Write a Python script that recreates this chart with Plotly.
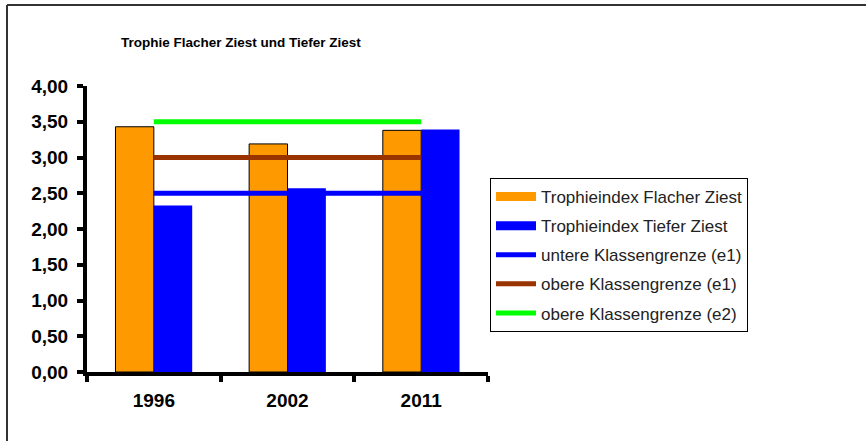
import plotly.graph_objects as go

# === Data ===
years = ["1996", "2002", "2011"]
flacher_ziest = [3.43, 3.19, 3.38]
tiefer_ziest = [2.33, 2.57, 3.39]
untere_e1 = [2.5, 2.5, 2.5]
obere_e1 = [3.0, 3.0, 3.0]
obere_e2 = [3.5, 3.5, 3.5]

W, H = 866, 441
FONT = "Liberation Sans, Arial, sans-serif"

fig = go.Figure()

fig.add_trace(go.Bar(
    x=years, y=flacher_ziest, name="Trophieindex Flacher Ziest",
    marker=dict(color="#FF9900", line=dict(color="black", width=1)),
    showlegend=False,
))
fig.add_trace(go.Bar(
    x=years, y=tiefer_ziest, name="Trophieindex Tiefer Ziest",
    marker=dict(color="#0000FF", line=dict(width=0)),
    showlegend=False,
))

# legend entries for the bars (wide rectangles like the original)
fig.add_trace(go.Scatter(x=[None], y=[None], mode="lines", name="Trophieindex Flacher Ziest",
                         line=dict(color="#FF9900", width=9), legendgroup="a"))
fig.add_trace(go.Scatter(x=[None], y=[None], mode="lines", name="Trophieindex Tiefer Ziest",
                         line=dict(color="#0000FF", width=9), legendgroup="b"))

# class boundary lines
for vals, col, label, grp in [
    (untere_e1, "#0000FF", "untere Klassengrenze (e1)", "c"),
    (obere_e1, "#993300", "obere Klassengrenze (e1)", "d"),
    (obere_e2, "#00FF00", "obere Klassengrenze (e2)", "e"),
]:
    fig.add_trace(go.Scatter(
        x=years, y=vals, mode="lines", name=label,
        line=dict(color=col, width=5),
        legendgroup=grp,
    ))

fig.update_layout(
    width=W, height=H,
    margin=dict(l=0, r=0, t=0, b=0),
    paper_bgcolor="white", plot_bgcolor="white",
    separators=",.",
    barmode="group", bargap=0.426, bargroupgap=0,
    font=dict(family=FONT, color="black"),
    showlegend=True,
    legend=dict(
        x=490 / W, y=1 - 178 / H, xanchor="left", yanchor="top",
        bordercolor="black", borderwidth=1, bgcolor="white",
        font=dict(size=17, color="#222"),
        tracegroupgap=4, itemwidth=40,
    ),
    xaxis=dict(
        domain=[87 / W, 488 / W],
        showline=True, linecolor="black", linewidth=4,
        ticks="outside", tickson="boundaries", ticklen=6, tickwidth=4, tickcolor="black",
        tickfont=dict(size=19, weight="bold"), ticklabelstandoff=8,
        showgrid=False, automargin=False,
    ),
    yaxis=dict(
        domain=[1 - 372 / H, 1 - 86 / H],
        range=[0, 4], dtick=0.5, tickformat=".2f",
        showline=True, linecolor="black", linewidth=4,
        ticks="outside", ticklen=6, tickwidth=4, tickcolor="black",
        tickfont=dict(size=19, weight="bold"), ticklabelstandoff=5,
        showgrid=False, zeroline=False, automargin=False,
    ),
    annotations=[dict(
        text="<b>Trophie Flacher Ziest und Tiefer Ziest</b>",
        x=241 / W, y=1 - 42 / H, xref="paper", yref="paper",
        xanchor="center", yanchor="middle", showarrow=False,
        font=dict(size=13.5, color="black"),
    )],
    shapes=[
        dict(type="line", xref="paper", yref="paper", x0=7 / W, x1=1, y0=1 - 5 / H, y1=1 - 5 / H,
             line=dict(color="#333", width=2)),
        dict(type="line", xref="paper", yref="paper", x0=7 / W, x1=7 / W, y0=0, y1=1 - 5 / H,
             line=dict(color="#333", width=2)),
    ],
)

# page body has an 8px default margin; remove it so pixel positions line up
fig.write_html("out.html", config={"displayModeBar": False},
               post_script="document.body.style.margin='0';")
